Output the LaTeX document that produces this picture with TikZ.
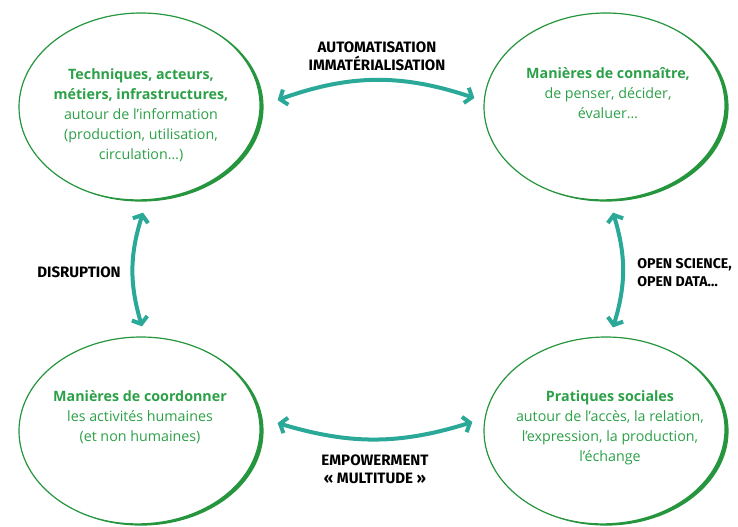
\documentclass[tikz,border=0pt]{standalone}
\usepackage{fontspec}
\setmainfont{Open Sans}
\newfontfamily\tagfont{Fira Sans}
\usetikzlibrary{arrows.meta}
\usetikzlibrary{shapes.geometric}
\definecolor{leafgreen}{RGB}{38,150,62}
\definecolor{textgreen}{RGB}{44,160,72}
\definecolor{tealarrow}{RGB}{42,168,152}

\begin{document}
\begin{tikzpicture}[x=0.75pt,y=0.75pt,yscale=-1,xscale=1,
  bubble/.style={draw=leafgreen, line width=0.9pt, ellipse, minimum width=183pt, minimum height=141pt, inner sep=0pt},
  gtext/.style={text=textgreen, align=center, font=\fontsize{10.7}{15}\selectfont},
  tag/.style={align=center, font=\tagfont\bfseries\fontsize{11.3}{13.5}\selectfont},
  link/.style={draw=tealarrow, line width=3pt, {Straight Barb[length=4.5pt,width=12pt]}-{Straight Barb[length=4.5pt,width=12pt]}}]
\path[use as bounding box] (0,0) rectangle (738,526);

%Shape: Ellipses
\node[bubble] (tl) at (141,107) {};
\node[bubble] (tr) at (606,107) {};
\node[bubble] (bl) at (141,431) {};
\node[bubble] (br) at (606,431) {};

%thick rim on the lower right of each ellipse
\foreach \n in {tl,tr,bl,br}{
  \begin{scope}
    \clip (\n.center) ellipse [x radius=122,y radius=94];
    \fill[leafgreen,even odd rule] (\n.center) ellipse [x radius=122,y radius=94] ([shift={(-3.6,-1.7)}]\n.center) ellipse [x radius=122,y radius=94];
  \end{scope}
}

% Text Node
\node[gtext] (tltxt) at (141,115) {{\bfseries Techniques, acteurs,}\\ {\bfseries métiers, infrastructures,}\\ autour de l'information\\ (production, utilisation,\\ circulation…)};
% Text Node
\node[gtext] (trtxt) at (608,93) {{\bfseries Manières de connaître,}\\ de penser, décider,\\ évaluer…};
% Text Node
\node[gtext] (bltxt) at (140,417) {{\bfseries Manières de coordonner}\\ les activités humaines\\ (et non humaines)};
% Text Node
\node[gtext] (brtxt) at (610,428) {{\bfseries Pratiques sociales}\\ autour de l'accès, la relation,\\ l'expression, la production,\\ l'échange};

% Labels
\node[tag] (auto) at (377,56) {AUTOMATISATION\\ IMMATÉRIALISATION};
\node[tag] (disr) at (79,272) {DISRUPTION};
\node[tag, align=left, anchor=west, inner sep=0pt, font=\tagfont\bfseries\fontsize{10.6}{13.5}\selectfont] (open) at (637,273) {OPEN SCIENCE,\\ OPEN DATA…};
\node[tag] (empo) at (375,469) {EMPOWERMENT\\ «~MULTITUDE~»};

%Arrows
\draw[link] ([shift={(14,-7)}]tl.east) to[bend right=19] ([shift={(-9,-9)}]tr.west);
\draw[link] ([shift={(2,11)}]tl.south) to[bend left=17] ([shift={(1,-10)}]bl.north);
\draw[link] ([shift={(7,11)}]tr.south) to[bend right=17] ([shift={(7,-9)}]br.north);
\draw[link] ([shift={(14,-8)}]bl.east) to[bend left=17] ([shift={(-11,-9)}]br.west);

\end{tikzpicture}
\end{document}
